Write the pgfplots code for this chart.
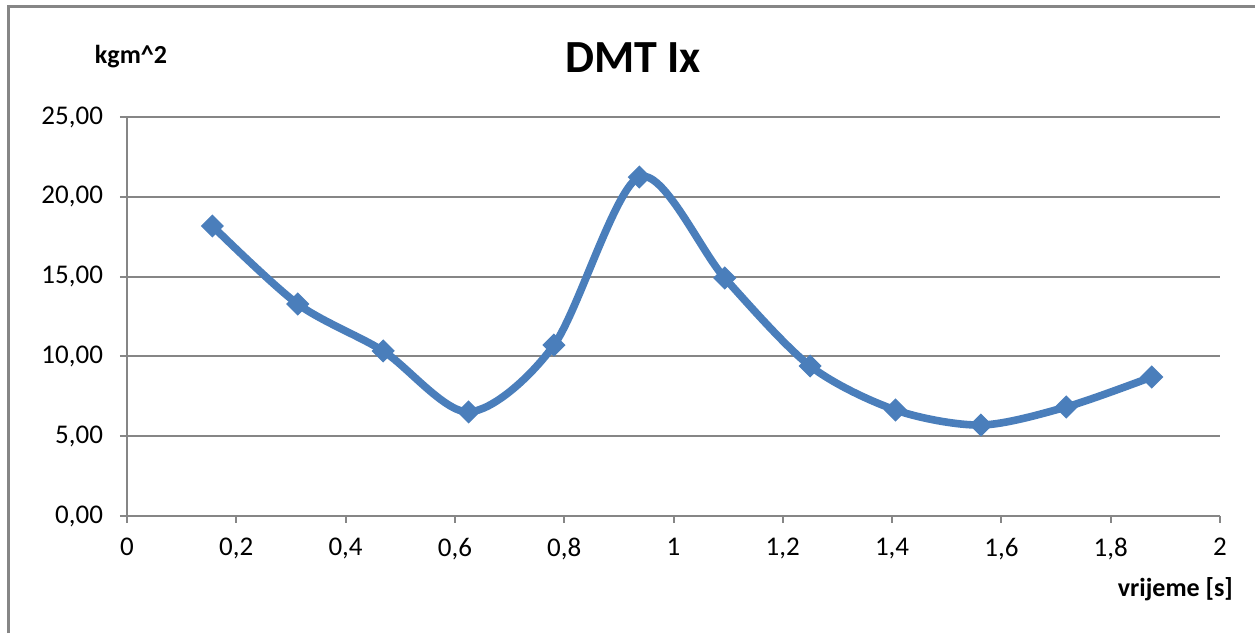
\documentclass[border=0pt]{standalone}
\usepackage{fontspec}
\setmainfont{Carlito}
\usepackage{pgfplots}
\pgfplotsset{compat=1.18}
\definecolor{excelblue}{RGB}{74,126,187}
\definecolor{gridgray}{RGB}{134,134,134}
\begin{document}
% 1 px of the reference = 0.5pt; y measured upward from the bottom edge
\begin{tikzpicture}[x=0.5pt,y=0.5pt]
\useasboundingbox (0,0) rectangle (1255,633);
\draw[gridgray, line width=1.5pt] (8,0) -- (8,626) -- (1255,626);
\begin{axis}[
  at={(63.5pt,58.5pt)}, anchor=south west,
  scale only axis, width=546.5pt, height=199.5pt,
  xmin=0, xmax=2, ymin=0, ymax=25,
  xtick={0,0.2,...,2.01}, ytick={0,5,...,25},
  axis y line*=left, axis x line*=bottom,
  axis line style={gridgray, line width=1pt, -},
  tick style={gridgray, line width=1pt},
  tick align=outside, major tick length=3.5pt,
  ymajorgrids, major grid style={gridgray, line width=1pt},
  tick label style={font=\fontsize{13.5}{16}\selectfont},
  /pgf/number format/assume math mode=true,
  /pgf/number format/use comma,
  yticklabel style={xshift=-5pt, /pgf/number format/.cd, fixed, fixed zerofill, precision=2},
  xticklabel style={yshift=-4pt, /pgf/number format/.cd, fixed, precision=1},
  clip=false,
]
\addplot[excelblue, line width=3.8pt, smooth, tension=0.5,
  mark=square*, mark size=3.8pt, mark options={rotate=45, line width=0.6pt, fill=excelblue}]
  coordinates {
  (0.15625,18.17)
  (0.3125,13.28)
  (0.46875,10.34)
  (0.625,6.52)
  (0.78125,10.71)
  (0.9375,21.24)
  (1.09375,14.91)
  (1.25,9.40)
  (1.40625,6.64)
  (1.5625,5.70)
  (1.71875,6.83)
  (1.875,8.71)
};
\end{axis}
\node[font=\fontsize{13}{15}\selectfont\bfseries] at (131,576) {kgm\^{}2};
\node[font=\fontsize{23}{27}\selectfont\bfseries] at (633,575) {DMT Ix};
\node[font=\fontsize{13}{15}\selectfont\bfseries, anchor=east] at (1240,44) {vrijeme [s]};
\end{tikzpicture}
\end{document}
